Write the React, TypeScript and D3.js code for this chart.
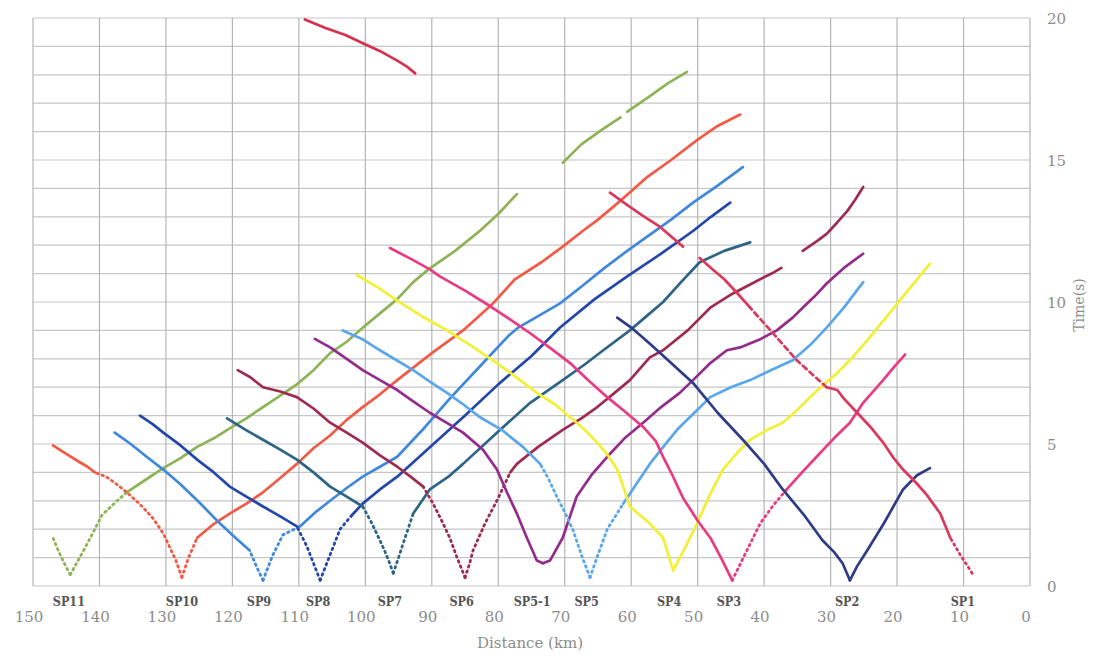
import React from "react";
import * as d3 from "d3";

type P = [number, number];

// ---- Tick labels / shot points ----
const xTicks: number[] = [150, 140, 130, 120, 110, 100, 90, 80, 70, 60, 50, 40, 30, 20, 10, 0];
const yTicks: number[] = [0, 5, 10, 15, 20];
const shotNames: string[] = ["SP11", "SP10", "SP9", "SP8", "SP7", "SP6", "SP5-1", "SP5", "SP4", "SP3", "SP2", "SP1"];
const shotLabelKm: number[] = [144.6, 127.6, 116.0, 107.1, 96.3, 85.5, 74.9, 66.7, 54.3, 45.3, 27.5, 10.1];

// ---- Travel-time branches [distance km, time s] ----
const sp11Left: P[] = [[144.4, 0.4], [145.3, 0.8], [146.2, 1.25], [147.0, 1.7]];
const sp11Right: P[] = [[144.4, 0.4], [142.5, 1.2], [140.7, 2.0], [139.6, 2.5], [137.8, 2.9], [135.9, 3.3], [133, 3.75], [130.4, 4.15], [127.8, 4.5], [125.3, 4.9], [122.8, 5.2], [120.4, 5.55], [117.9, 5.9], [115.4, 6.3], [112.8, 6.7], [110.3, 7.1], [107.8, 7.6], [105.3, 8.2], [102.8, 8.6], [100.35, 9.1], [97.8, 9.6], [95.2, 10.1], [92.8, 10.7], [90.5, 11.15], [86.5, 11.8], [82.8, 12.5], [80, 13.1], [77.2, 13.8]];
const sp11FarA: P[] = [[70.3, 14.9], [67.5, 15.55], [64.5, 16.05], [61.6, 16.5]];
const sp11FarB: P[] = [[60.6, 16.7], [57.5, 17.2], [54.5, 17.7], [51.6, 18.1]];

const sp10Left: P[] = [[127.6, 0.3], [128.5, 0.9], [129.5, 1.4], [130.4, 1.85], [132, 2.4], [134, 2.9], [135.9, 3.3], [137.5, 3.6], [139, 3.85], [140.7, 4.0], [141.8, 4.2], [142.9, 4.35], [145, 4.65], [147.0, 4.95]];
const sp10Right: P[] = [[127.6, 0.3], [126.6, 1.0], [125.3, 1.7], [123, 2.15], [120.4, 2.55], [117.9, 2.9], [115.4, 3.3], [112.8, 3.8], [110.3, 4.3], [107.8, 4.85], [105.3, 5.3], [102.8, 5.85], [100.4, 6.3], [97.8, 6.75], [95.2, 7.25], [90, 8.2], [85.3, 9.0], [81, 9.9], [77.5, 10.8], [73.5, 11.4], [70.3, 11.95], [67.3, 12.5], [65, 12.9], [62.7, 13.35], [60, 13.9], [57.6, 14.4], [54, 15.0], [50.1, 15.7], [47, 16.2], [43.6, 16.6]];

const sp9Left: P[] = [[115.4, 0.2], [116.4, 0.7], [117.4, 1.25], [120, 1.8], [122.3, 2.3], [125, 2.95], [127.9, 3.6], [130.4, 4.1], [132.9, 4.55], [135.3, 5.0], [137.7, 5.4]];
const sp9Right: P[] = [[115.4, 0.2], [113.9, 1.1], [112.4, 1.8], [109.8, 2.1], [107.5, 2.6], [105.3, 3.0], [102.8, 3.45], [100.4, 3.85], [97.8, 4.2], [95.2, 4.55], [91, 5.6], [87.3, 6.6], [82.5, 7.8], [78.5, 8.8], [77, 9.1], [74, 9.5], [70.7, 9.95], [67.7, 10.5], [64, 11.2], [60.6, 11.8], [57.6, 12.3], [54, 12.9], [50.7, 13.5], [47, 14.1], [43.2, 14.75]];

const sp8Left: P[] = [[106.8, 0.2], [107.8, 0.8], [108.8, 1.4], [110.3, 2.1], [112.8, 2.45], [115.4, 2.8], [117.9, 3.15], [120.4, 3.5], [122.8, 4.0], [125.3, 4.45], [127.8, 4.95], [130.4, 5.4], [132, 5.7], [133.9, 6.0]];
const sp8Right: P[] = [[106.8, 0.2], [105.3, 1.1], [103.8, 2.0], [102, 2.5], [100.4, 2.9], [97.8, 3.4], [95.2, 3.85], [90, 4.95], [85, 6.0], [80, 7.1], [75, 8.1], [70.7, 9.1], [65.5, 10.1], [60.6, 10.9], [55.5, 11.7], [50.7, 12.5], [48, 13.0], [45.1, 13.5]];

const sp7Left: P[] = [[95.8, 0.45], [96.5, 0.9], [97.2, 1.3], [97.8, 1.6], [99, 2.2], [100.4, 2.8], [102.8, 3.15], [105.3, 3.5], [107.8, 4.0], [110.3, 4.45], [112.8, 4.8], [115.4, 5.15], [118, 5.5], [120.8, 5.9]];
const sp7Right: P[] = [[95.8, 0.45], [95, 1.0], [94.3, 1.5], [92.8, 2.55], [90.3, 3.4], [87.5, 3.85], [85.3, 4.3], [80.2, 5.4], [75.2, 6.45], [70.3, 7.25], [67, 7.8], [64.2, 8.3], [60.2, 9.0], [57.2, 9.6], [55.2, 10.0], [52.5, 10.7], [49.7, 11.4], [46, 11.8], [42.1, 12.1]];

const sp6Left: P[] = [[85.0, 0.3], [86.2, 1.0], [87.3, 1.7], [88.3, 2.2], [89.8, 2.9], [91.3, 3.5], [93.2, 3.85], [95.2, 4.2], [97.8, 4.6], [100.4, 5.05], [102.8, 5.4], [105.3, 5.75], [107.8, 6.25], [110.3, 6.65], [112.8, 6.85], [115.4, 7.0], [117.3, 7.35], [119.2, 7.6]];
const sp6Right: P[] = [[85.0, 0.3], [84.3, 0.8], [83.8, 1.25], [82, 2.2], [80, 3.1], [78.2, 4.0], [77.2, 4.3], [74, 4.9], [70.3, 5.5], [67.5, 5.9], [65.1, 6.3], [62.5, 6.8], [60.2, 7.25], [57.2, 8.05], [55.2, 8.3], [51.5, 9.0], [48.1, 9.8], [44.7, 10.3], [40.6, 10.8], [38.5, 11.05], [37.4, 11.2]];
const sp6Far: P[] = [[34.2, 11.8], [32, 12.15], [30.6, 12.4], [29, 12.8], [27.5, 13.2], [26.3, 13.6], [25.1, 14.05]];

const sp51Left: P[] = [[73.3, 0.8], [74.2, 0.9], [75.7, 1.7], [77.2, 2.55], [78.7, 3.3], [80.2, 4.1], [82.3, 4.8], [85.3, 5.4], [87.8, 5.75], [90.3, 6.1], [92.8, 6.5], [95.2, 6.9], [97.8, 7.25], [100.4, 7.6], [102.8, 8.0], [105.3, 8.4], [107.6, 8.7]];
const sp51Right: P[] = [[73.3, 0.8], [72.2, 0.9], [70.3, 1.7], [68.2, 3.15], [66, 3.9], [63.6, 4.55], [61, 5.2], [58.2, 5.75], [55.5, 6.3], [52.7, 6.8], [50.7, 7.25], [48.1, 7.85], [45.6, 8.3], [43.6, 8.4], [40.5, 8.7], [38.1, 9.0], [35.7, 9.45], [34.2, 9.8], [32.4, 10.2], [30.6, 10.65], [28, 11.2], [25.1, 11.7]];

const sp5Left: P[] = [[66.2, 0.3], [67.5, 1.1], [68.8, 2.0], [70, 2.6], [71.2, 3.15], [72.5, 3.8], [73.7, 4.3], [76.3, 4.9], [79.5, 5.5], [82.8, 5.95], [85.3, 6.4], [87.7, 6.8], [90.3, 7.2], [92.8, 7.6], [95.3, 7.95], [97.8, 8.3], [100.5, 8.7], [103.4, 9.0]];
const sp5Right: P[] = [[66.2, 0.3], [65, 1.1], [63.6, 2.0], [61.2, 2.9], [59.2, 3.6], [57.2, 4.3], [55, 4.95], [53.1, 5.5], [50.5, 6.1], [48.1, 6.65], [45, 7.0], [42.1, 7.25], [39, 7.6], [35.7, 7.95], [33, 8.5], [30.6, 9.1], [28, 9.8], [25.1, 10.7]];

const sp4Left: P[] = [[53.7, 0.55], [55.2, 1.7], [57.2, 2.2], [60.2, 2.8], [61.2, 3.5], [62.1, 4.1], [63.5, 4.6], [65.1, 5.05], [67, 5.5], [69.2, 5.95], [71.5, 6.4], [74.2, 6.8], [77, 7.3], [80.2, 7.85], [84, 8.45], [87.7, 9.0], [91.5, 9.5], [95.2, 10.05], [98, 10.5], [101.3, 10.95]];
const sp4Right: P[] = [[53.7, 0.55], [52, 1.3], [50.1, 2.2], [48.2, 3.2], [46.2, 4.1], [44, 4.7], [42.1, 5.15], [39.5, 5.5], [37.2, 5.75], [35, 6.2], [33.1, 6.65], [31, 7.1], [29.0, 7.5], [26.5, 8.1], [24.5, 8.65], [21.5, 9.5], [19.1, 10.2], [17, 10.8], [15.05, 11.35]];

const sp3Left: P[] = [[44.8, 0.2], [46.5, 1.0], [48.1, 1.7], [50, 2.3], [52.2, 3.1], [53.8, 3.9], [55.2, 4.55], [56.3, 5.1], [58.2, 5.6], [61, 6.15], [63.6, 6.65], [66.5, 7.25], [69.2, 7.85], [72, 8.35], [75.2, 8.9], [78, 9.35], [81.2, 9.85], [85, 10.4], [88.8, 10.9], [90.3, 11.15], [93, 11.5], [96.3, 11.9]];
const sp3Right: P[] = [[44.8, 0.2], [42.7, 1.2], [40.6, 2.2], [38.6, 2.85], [36.6, 3.4], [34.3, 4.0], [32.1, 4.55], [29.5, 5.2], [27.1, 5.75], [25.1, 6.45], [22.1, 7.25], [20.5, 7.7], [18.8, 8.15]];

const sp2Left: P[] = [[27.1, 0.2], [28.2, 0.8], [29.5, 1.2], [31.2, 1.6], [34, 2.5], [37.2, 3.4], [40, 4.3], [43.2, 5.15], [47, 6.1], [50.7, 7.15], [53.5, 7.75], [56.1, 8.3], [58, 8.7], [60, 9.1], [62.1, 9.45]];
const sp2Right: P[] = [[27.1, 0.2], [26, 0.7], [24.5, 1.25], [22, 2.2], [19.1, 3.4], [17, 3.9], [15.05, 4.15]];

const sp1Near: P[] = [[8.7, 0.45], [10.5, 1.1], [12.0, 1.7], [13.5, 2.55], [15.5, 3.2], [17.0, 3.6], [19.1, 4.1], [20.5, 4.5], [22.1, 5.05], [24, 5.6], [26.0, 6.1], [28, 6.6], [29.0, 6.9], [30.6, 7.0]];
const sp1Mid: P[] = [[30.6, 7.0], [32.5, 7.4], [35.1, 7.95], [38.1, 8.75], [40, 9.25], [42.1, 9.8]];
const sp1SegB: P[] = [[42.1, 9.8], [44, 10.3], [46, 10.8], [48, 11.2], [49.7, 11.55]];
const sp1SegC: P[] = [[52.2, 11.95], [55.7, 12.65], [58, 13.0], [60.2, 13.35], [63.2, 13.85]];
const sp1Far: P[] = [[92.5, 18.05], [93.8, 18.3], [95.2, 18.5], [97.5, 18.8], [100.3, 19.1], [103, 19.4], [106, 19.65], [109.1, 19.95]];

// ---- Colours ----
const C = {
  sp11: "#8db356",
  sp10: "#f25a45",
  sp9: "#4088dc",
  sp8: "#2448aa",
  sp7: "#2e6485",
  sp6: "#9e2c50",
  sp51: "#932c8a",
  sp5: "#5aa6ec",
  sp4: "#f2f035",
  sp3: "#ea3a82",
  sp2: "#2f3b84",
  sp1: "#dc385c",
};

// dot: number of leading points drawn dotted
const branches: { pts: P[]; color: string; dot: number; dash?: string }[] = [
  { pts: sp11Left, color: C.sp11, dot: 99 },
  { pts: sp11Right, color: C.sp11, dot: 6 },
  { pts: sp11FarA, color: C.sp11, dot: 0 },
  { pts: sp11FarB, color: C.sp11, dot: 0 },
  { pts: sp1Far, color: "#d8304e", dot: 0 },
  { pts: sp10Left, color: C.sp10, dot: 10 },
  { pts: sp10Right, color: C.sp10, dot: 3 },
  { pts: sp9Left, color: C.sp9, dot: 3 },
  { pts: sp9Right, color: C.sp9, dot: 4 },
  { pts: sp8Left, color: C.sp8, dot: 4 },
  { pts: sp8Right, color: C.sp8, dot: 4 },
  { pts: sp7Left, color: C.sp7, dot: 6 },
  { pts: sp7Right, color: C.sp7, dot: 4 },
  { pts: sp6Left, color: C.sp6, dot: 6 },
  { pts: sp6Right, color: C.sp6, dot: 6 },
  { pts: sp6Far, color: C.sp6, dot: 0 },
  { pts: sp51Left, color: C.sp51, dot: 0 },
  { pts: sp51Right, color: C.sp51, dot: 0 },
  { pts: sp5Left, color: C.sp5, dot: 7 },
  { pts: sp5Right, color: C.sp5, dot: 4 },
  { pts: sp4Left, color: C.sp4, dot: 0 },
  { pts: sp4Right, color: C.sp4, dot: 0 },
  { pts: sp3Left, color: C.sp3, dot: 0 },
  { pts: sp3Right, color: C.sp3, dot: 5 },
  { pts: sp2Left, color: C.sp2, dot: 0 },
  { pts: sp2Right, color: C.sp2, dot: 0 },
  { pts: sp1Near, color: C.sp1, dot: 3 },
  { pts: sp1Mid, color: C.sp1, dot: 0, dash: "5 4" },
  { pts: sp1SegB, color: C.sp1, dot: 0 },
  { pts: sp1SegC, color: C.sp1, dot: 0 },
];

const W = 1096;
const H = 660;
const x = d3.scaleLinear().domain([150, 0]).range([33, 1030]);
const y = d3.scaleLinear().domain([0, 20]).range([586, 18]);
const line = d3.line<P>().x((d) => x(d[0])).y((d) => y(d[1]));

export default function App() {
  const hGrid = d3.range(0, 21, 1);
  const vGrid = d3.range(0, 151, 10);
  const serif = "'DejaVu Serif', 'Liberation Serif', serif";
  return (
    <div style={{ position: "absolute", left: 0, top: 0, width: W, height: H, background: "#fff" }}>
      <svg width={W} height={H} style={{ display: "block" }}>
        <rect x={0} y={0} width={W} height={H} fill="#fff" />
        {hGrid.map((t) => (
          <line key={"h" + t} x1={x(150)} x2={x(0)} y1={y(t)} y2={y(t)} stroke="#c6c6c6" strokeWidth={1.2} />
        ))}
        {vGrid.map((k) => (
          <line key={"v" + k} x1={x(k)} x2={x(k)} y1={y(0)} y2={y(20)} stroke="#b4b4b4" strokeWidth={1.2} />
        ))}
        {branches.map((b, i) => {
          const n = Math.min(b.dot, b.pts.length);
          const out: React.ReactNode[] = [];
          if (n > 0) {
            out.push(
              <path key={i + "d"} d={line(b.pts.slice(0, n)) || ""} fill="none" stroke={b.color}
                strokeWidth={2.8} strokeDasharray="1.5 4" strokeLinecap="round" strokeLinejoin="round" />
            );
          }
          if (n < b.pts.length) {
            out.push(
              <path key={i + "s"} d={line(b.pts.slice(Math.max(0, n - 1))) || ""} fill="none" stroke={b.color}
                strokeWidth={2.7} strokeLinecap="round" strokeLinejoin="round"
                strokeDasharray={b.dash} />
            );
          }
          return <g key={i}>{out}</g>;
        })}
        {shotNames.map((s, i) => (
          <text key={s} x={x(shotLabelKm[i])} y={606} textAnchor="middle" fontFamily="'DejaVu Serif Condensed', 'DejaVu Serif', serif"
            fontWeight="bold" fontSize={12.5} fill="#555">{s}</text>
        ))}
        {xTicks.map((k) => (
          <text key={"xt" + k} x={x(k) - 4} y={622} textAnchor="middle" fontFamily={serif} fontSize={15} fill="#8c8c8c">{k}</text>
        ))}
        {yTicks.map((t) => (
          <text key={"yt" + t} x={1047} y={y(t) + 6} textAnchor="start" fontFamily={serif} fontSize={15} fill="#8c8c8c">{t}</text>
        ))}
        <text x={530} y={648} textAnchor="middle" fontFamily={serif} fontSize={15} fill="#8c8c8c">Distance (km)</text>
        <text transform={`translate(1084,305) rotate(-90)`} textAnchor="middle" fontFamily={serif} fontSize={14} fill="#8c8c8c">Time(s)</text>
      </svg>
    </div>
  );
}
